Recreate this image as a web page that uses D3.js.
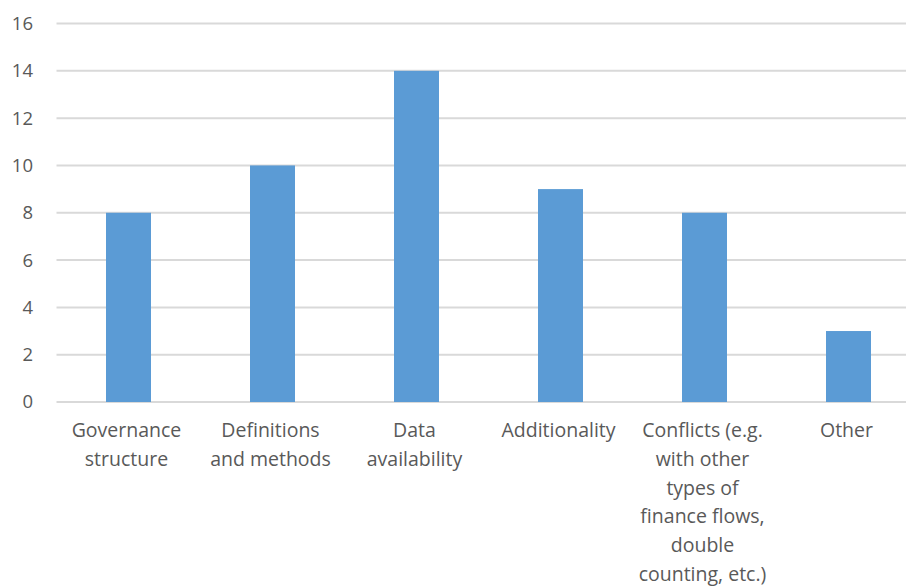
<!DOCTYPE html>
<html>
<head>
<meta charset="utf-8">
<script src="https://cdn.jsdelivr.net/npm/d3@7"></script>
<style>
  html, body { margin: 0; padding: 0; background: #fff; }
  svg { display: block; }
  text { font-family: "Open Sans", "Noto Sans", sans-serif; fill: #595959; }
</style>
</head>
<body>
<svg id="chart" width="906" height="588"></svg>
<script>
const categories = [
  ["Governance", "structure"],
  ["Definitions", "and methods"],
  ["Data", "availability"],
  ["Additionality"],
  ["Conflicts (e.g.", "with other", "types of", "finance flows,", "double", "counting, etc.)"],
  ["Other"]
];
const values = [8, 10, 14, 9, 8, 3];
const yTicks = [0, 2, 4, 6, 8, 10, 12, 14, 16];

(function () {
const svg = d3.select("#chart");
const plotLeft = 56.5, plotRight = 920.5, plotTop = 23.5, plotBottom = 402;

const x = d3.scaleBand()
  .domain(d3.range(categories.length))
  .range([plotLeft, plotRight])
  .paddingInner(0.6875)
  .paddingOuter(0.34375);

const y = d3.scaleLinear().domain([0, 16]).range([plotBottom, plotTop]);

// gridlines
svg.append("g")
  .selectAll("line")
  .data(yTicks)
  .join("line")
  .attr("x1", plotLeft)
  .attr("x2", 906)
  .attr("y1", d => y(d))
  .attr("y2", d => y(d))
  .attr("stroke", "#d9d9d9")
  .attr("stroke-width", 2);

// y tick labels
svg.append("g")
  .selectAll("text")
  .data(yTicks)
  .join("text")
  .attr("x", 33)
  .attr("y", d => y(d))
  .attr("dy", "0.35em")
  .attr("text-anchor", "end")
  .attr("font-size", 18.5)
  .text(d => d);

// bars
svg.append("g")
  .selectAll("rect")
  .data(values)
  .join("rect")
  .attr("x", (d, i) => x(i))
  .attr("width", x.bandwidth())
  .attr("y", d => y(d))
  .attr("height", d => y(0) - y(d))
  .attr("fill", "#5b9bd5");

// category labels
const lab = svg.append("g")
  .selectAll("text")
  .data(categories)
  .join("text")
  .attr("text-anchor", "middle")
  .attr("font-size", 19.5)
  .attr("x", (d, i) => x(i) + x.bandwidth() / 2 - 2);
lab.selectAll("tspan")
  .data(d => d)
  .join("tspan")
  .attr("x", function () { return this.parentNode.getAttribute("x"); })
  .attr("y", (d, j) => 437 + j * 28.8)
  .text(d => d);
})();
</script>
</body>
</html>
